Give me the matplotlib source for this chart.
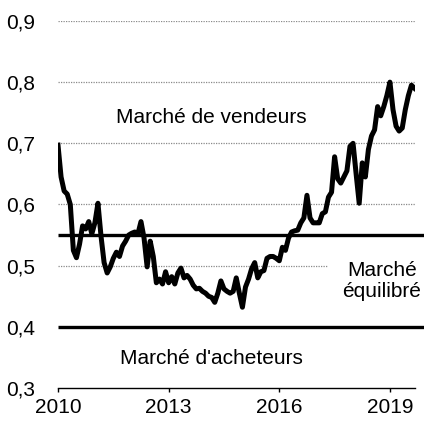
import numpy as np
import matplotlib.pyplot as plt

plt.rcParams['font.family'] = ['Liberation Sans', 'DejaVu Sans']

# monthly ratio, Jan 2010 onwards
ratio = [
    0.697, 0.645, 0.622, 0.617, 0.600, 0.525, 0.513, 0.535, 0.565, 0.560, 0.572, 0.552,
    0.570, 0.602, 0.548, 0.505, 0.488, 0.498, 0.512, 0.522, 0.515, 0.532, 0.540, 0.550,
    0.553, 0.555, 0.552, 0.572, 0.545, 0.498, 0.540, 0.515, 0.472, 0.478, 0.470, 0.490,
    0.472, 0.482, 0.470, 0.488, 0.496, 0.480, 0.484, 0.478, 0.468, 0.462, 0.463, 0.458,
    0.455, 0.450, 0.448, 0.440, 0.455, 0.475, 0.462, 0.458, 0.455, 0.458, 0.480, 0.455,
    0.432, 0.465, 0.478, 0.495, 0.505, 0.480, 0.490, 0.492, 0.512, 0.515, 0.515, 0.512,
    0.508, 0.530, 0.525, 0.545, 0.555, 0.557, 0.558, 0.570, 0.578, 0.615, 0.578, 0.570,
    0.570, 0.570, 0.585, 0.588, 0.612, 0.620, 0.678, 0.642, 0.635, 0.645, 0.655, 0.695,
    0.700, 0.650, 0.602, 0.668, 0.645, 0.690, 0.712, 0.722, 0.760, 0.745, 0.760, 0.778,
    0.800, 0.755, 0.728, 0.720, 0.725, 0.755, 0.778, 0.795, 0.790,
]
start_year = 2010
year_ticks = [2010, 2013, 2016, 2019]
ytick_vals = [0.3, 0.4, 0.5, 0.6, 0.7, 0.8, 0.9]
ytick_labels = ['0,3', '0,4', '0,5', '0,6', '0,7', '0,8', '0,9']
thresholds = [0.55, 0.4]

t = start_year + np.arange(len(ratio)) / 12.0

fig = plt.figure(figsize=(4.24, 4.22), dpi=100)
ax = fig.add_axes([0.1368, 0.0806, 0.8420, 0.8697])

# dotted grid lines
for v in [0.6, 0.7, 0.8, 0.9]:
    ax.axhline(v, color='#8a8a8a', lw=0.9, ls=(0, (1, 1)), zorder=1)
ax.axhline(0.5, xmax=0.753, color='#8a8a8a', lw=0.9, ls=(0, (1, 1)), zorder=1)

# market thresholds
for v in thresholds:
    ax.plot([2010, 2019.92], [v, v], color='black', lw=2.4, clip_on=False,
            solid_capstyle='butt', zorder=2)

ax.plot(t, ratio, color='black', lw=3.6, solid_joinstyle='round', zorder=3)

ax.text(2014.17, 0.7426, 'Marché de vendeurs', fontsize=15, ha='center', va='center')
ax.text(2014.17, 0.3475, "Marché d'acheteurs", fontsize=15, ha='center', va='center')
ax.text(2018.78, 0.4754, 'Marché\néquilibré', fontsize=15, ha='center', va='center',
        linespacing=1.15)

ax.set_xlim(2010, 2019.68)
ax.set_ylim(0.3, 0.9)
ax.set_xticks(year_ticks)
ax.set_xticklabels([str(y) for y in year_ticks], fontsize=15)
ax.set_yticks(ytick_vals)
ax.set_yticklabels(ytick_labels, fontsize=15)
ax.tick_params(axis='y', left=False, pad=13)
ax.tick_params(axis='x', direction='out', length=3, width=1.0, color='black', pad=4)

for s in ['top', 'right', 'left']:
    ax.spines[s].set_visible(False)
ax.spines['bottom'].set_linewidth(1.0)
ax.spines['bottom'].set_color('black')

fig.savefig('out.png', dpi=100)
